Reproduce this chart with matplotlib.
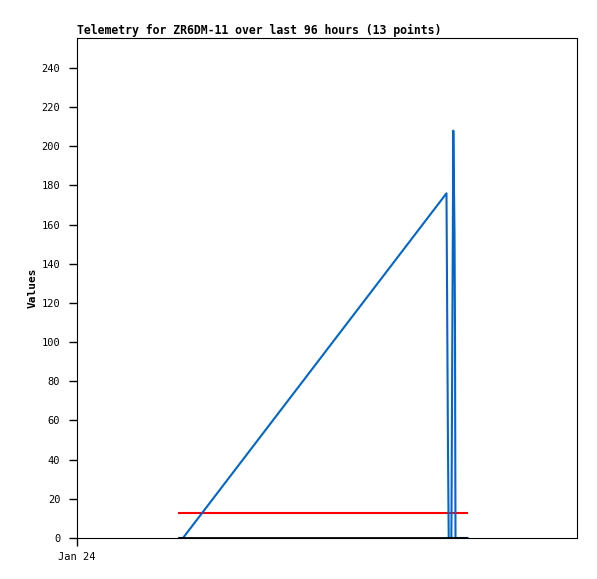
import matplotlib

matplotlib.use("Agg")
import matplotlib.pyplot as plt

# sample times in hours after Jan 24 00:00 (13 points)
hours = [19.4, 20.35, 70.94, 71.04, 71.23, 71.37, 71.88, 72.25, 72.48, 72.58, 72.62, 72.67, 75.07]
blue_vals = [0, 0, 176, 132, 45, 0, 0, 208, 156, 104, 52, 0, 0]
red_vals = [13] * 13
black_vals = [0] * 13

y_ticks = list(range(0, 241, 20))
x_tick_pos = [0]
x_tick_labels = ["Jan 24"]

plt.rcParams["font.family"] = ["DejaVu Sans Mono"]

fig = plt.figure(figsize=(5.97, 5.79), dpi=100)
ax = fig.add_axes([77 / 597, 1 - 538 / 579, 500 / 597, 500 / 579])

ax.plot(hours, black_vals, color="#000000", linewidth=2.0, zorder=4, solid_capstyle="butt")
ax.plot(hours, red_vals, color="#ff0000", linewidth=1.5, zorder=2, solid_capstyle="butt")
ax.plot(hours, blue_vals, color="#0066cc", linewidth=1.5, zorder=3, solid_capstyle="butt")

ax.set_xlim(0, 96)
ax.set_ylim(0, 255.3)
ax.set_yticks(y_ticks)
ax.set_xticks(x_tick_pos)
ax.set_xticklabels(x_tick_labels)
ax.tick_params(axis="both", direction="out", length=6, width=1, labelsize=7.5, pad=4)
ax.tick_params(axis="y", pad=6)

for sp in ax.spines.values():
    sp.set_linewidth(0.8)

ax.set_ylabel("Values", fontsize=8, fontweight="bold", labelpad=3)
ax.set_title("Telemetry for ZR6DM-11 over last 96 hours (13 points)",
             loc="left", fontsize=8.3, fontweight="bold", pad=3)

fig.savefig("out.png", dpi=100)
